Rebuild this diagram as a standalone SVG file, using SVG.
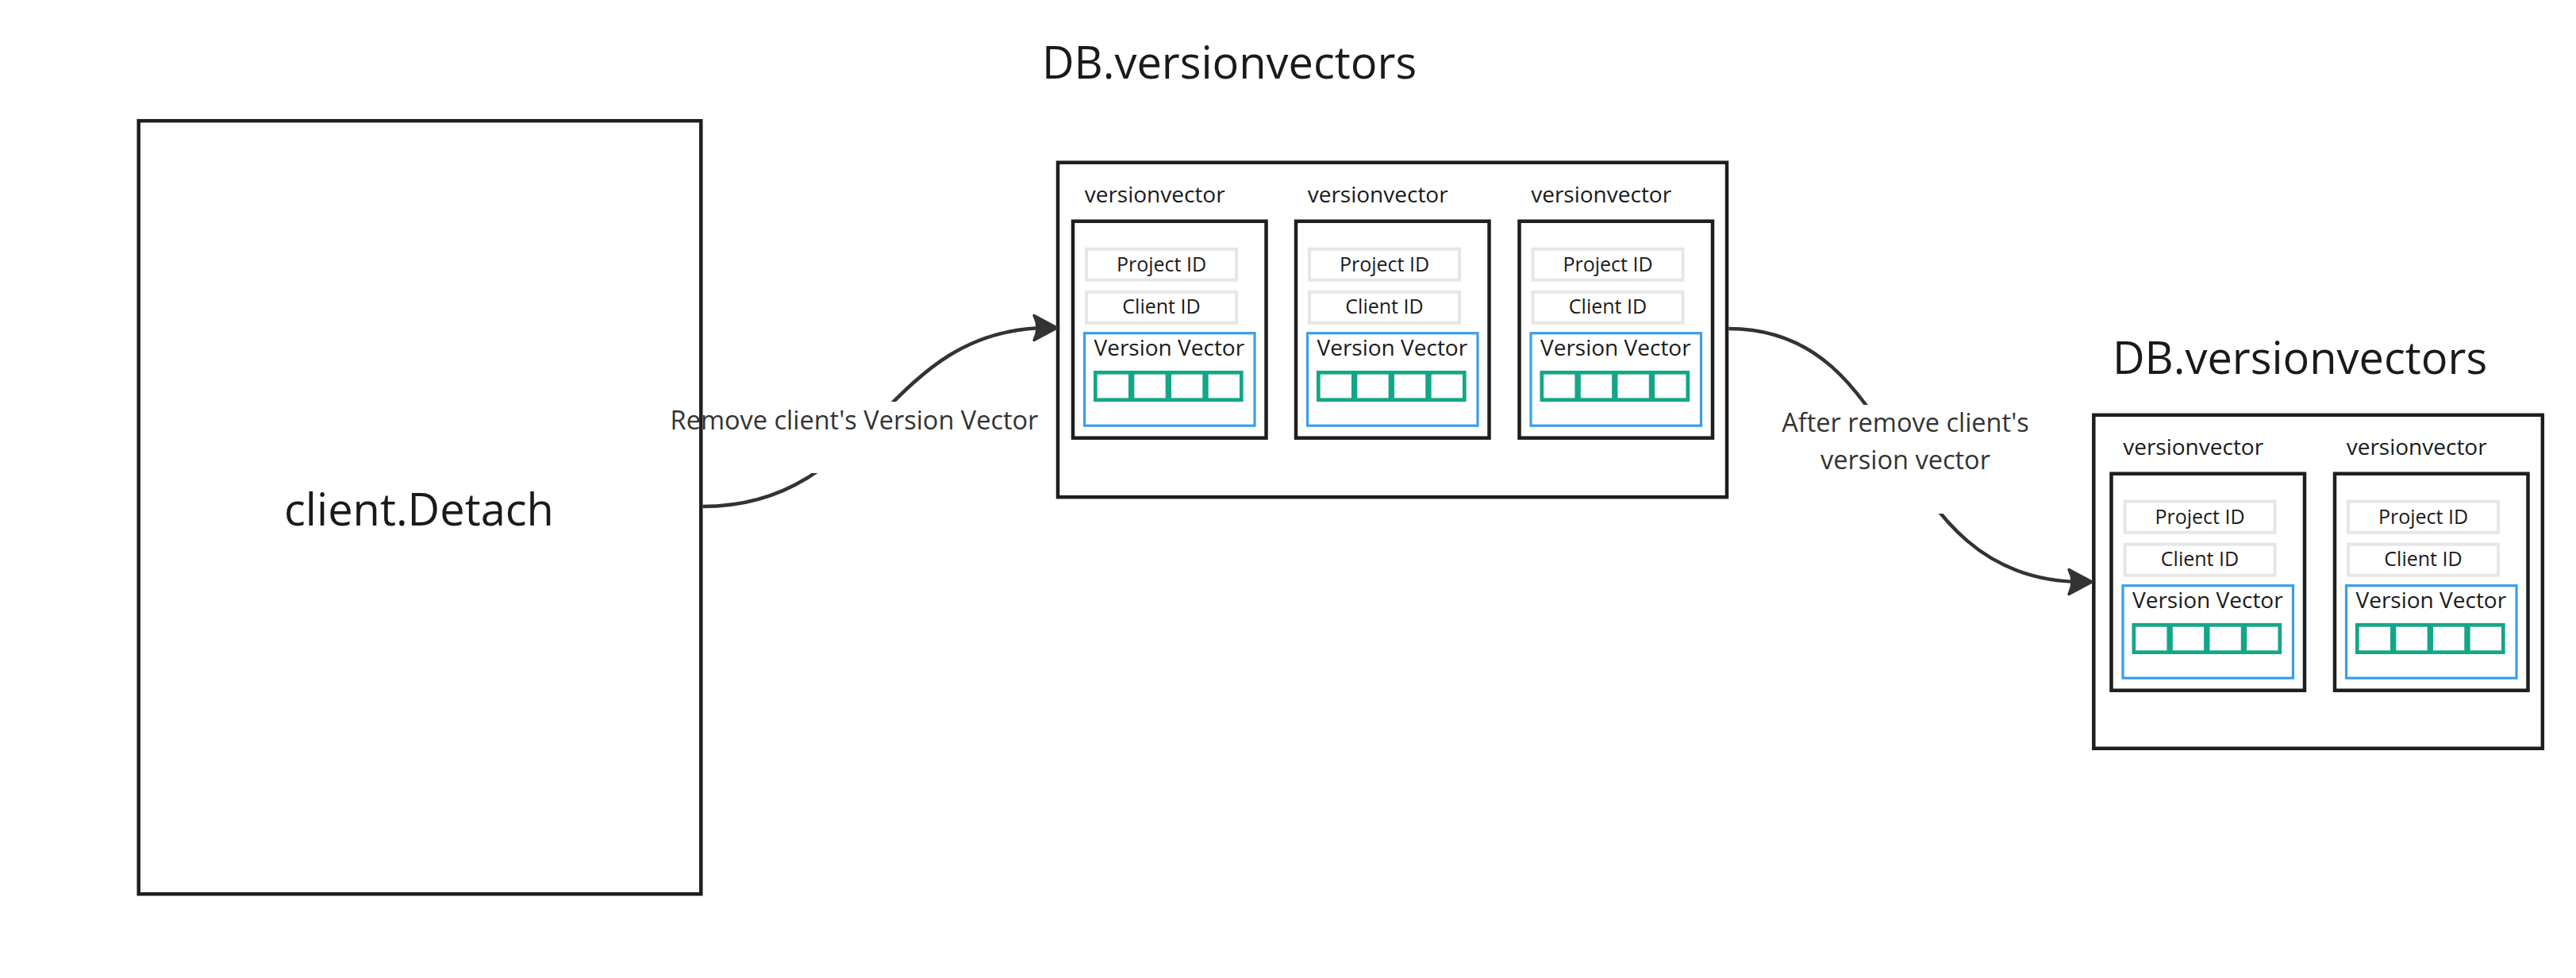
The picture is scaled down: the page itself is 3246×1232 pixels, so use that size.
<svg xmlns="http://www.w3.org/2000/svg" width="3246" height="1232" viewBox="0 0 3246 1232">
  <style>
    text { font-family: "Open Sans", "Noto Sans", "Liberation Sans", sans-serif; fill: #1a1a1a; }
    .title { font-size: 56px; }
    .lbl { font-size: 32.5px; fill: #333333; }
    .vvlabel { font-size: 28px; }
    .idtext { font-size: 25px; text-anchor: middle; }
    .vvtext { font-size: 28px; }
    .big { fill: #ffffff; stroke: #1e1e1e; stroke-width: 4.5; }
    .card { fill: #ffffff; stroke: #1e1e1e; stroke-width: 4.5; }
    .idbox { fill: #ffffff; stroke: #e6e6e6; stroke-width: 4; }
    .vvbox { fill: #ffffff; stroke: #3b9de9; stroke-width: 3.2; }
    .cell { fill: #ffffff; stroke: #13a688; stroke-width: 4.7; }
    .conn { fill: none; stroke: #333333; stroke-width: 4.5; stroke-linecap: butt; }
  </style>
  <defs>
    <marker id="arrow" markerUnits="userSpaceOnUse" markerWidth="50" markerHeight="50" viewBox="-25 -25 50 50" refX="0" refY="0" orient="auto" overflow="visible">
      <path d="M11,0 L-18,-15.5 Q-10,0 -18,15.5 Z" fill="#333333" stroke="#333333" stroke-width="3.5" stroke-linejoin="round"/>
    </marker>
    <mask id="gap1" maskUnits="userSpaceOnUse" x="0" y="0" width="3246" height="1232">
      <rect x="0" y="0" width="3246" height="1232" fill="#ffffff"/>
      <rect x="840" y="506" width="470" height="90" fill="#000000"/>
    </mask>
    <mask id="gap2" maskUnits="userSpaceOnUse" x="0" y="0" width="3246" height="1232">
      <rect x="0" y="0" width="3246" height="1232" fill="#ffffff"/>
      <rect x="2230" y="510" width="350" height="137" fill="#000000"/>
    </mask>
  </defs>

  <rect x="0" y="0" width="3246" height="1232" fill="#ffffff"/>

  <g id="client-detach">
    <rect class="big" x="174.7" y="152.2" width="708.6" height="974"/>
    <text class="title" x="528" y="661.5" text-anchor="middle">client.Detach</text>
  </g>

  <g id="db-versionvectors-before">
    <text class="title" x="1549" y="99" text-anchor="middle">DB.versionvectors</text>
    <rect class="big" x="1333" y="204.7" width="843" height="421.5"/>
    <g id="vv-before-1" transform="translate(1352,278.7)">
      <text class="vvlabel" x="14.7" y="-24">versionvector</text>
      <rect class="card" x="0" y="0" width="243.5" height="273"/>
      <rect class="idbox" x="17" y="35" width="189" height="39"/>
      <text class="idtext" x="111.5" y="63">Project ID</text>
      <rect class="idbox" x="17" y="89" width="189" height="39"/>
      <text class="idtext" x="111.5" y="116">Client ID</text>
      <rect class="vvbox" x="14.5" y="141" width="214.5" height="116.5"/>
      <text class="vvtext" x="26.5" y="169">Version Vector</text>
      <rect class="cell" x="28.3" y="190.6" width="44" height="34.4"/>
      <rect class="cell" x="74.97" y="190.6" width="44" height="34.4"/>
      <rect class="cell" x="121.63" y="190.6" width="44" height="34.4"/>
      <rect class="cell" x="168.3" y="190.6" width="44" height="34.4"/>
    </g>
    <g id="vv-before-2" transform="translate(1633,278.7)">
      <text class="vvlabel" x="14.7" y="-24">versionvector</text>
      <rect class="card" x="0" y="0" width="243.5" height="273"/>
      <rect class="idbox" x="17" y="35" width="189" height="39"/>
      <text class="idtext" x="111.5" y="63">Project ID</text>
      <rect class="idbox" x="17" y="89" width="189" height="39"/>
      <text class="idtext" x="111.5" y="116">Client ID</text>
      <rect class="vvbox" x="14.5" y="141" width="214.5" height="116.5"/>
      <text class="vvtext" x="26.5" y="169">Version Vector</text>
      <rect class="cell" x="28.3" y="190.6" width="44" height="34.4"/>
      <rect class="cell" x="74.97" y="190.6" width="44" height="34.4"/>
      <rect class="cell" x="121.63" y="190.6" width="44" height="34.4"/>
      <rect class="cell" x="168.3" y="190.6" width="44" height="34.4"/>
    </g>
    <g id="vv-before-3" transform="translate(1914.5,278.7)">
      <text class="vvlabel" x="14.7" y="-24">versionvector</text>
      <rect class="card" x="0" y="0" width="243.5" height="273"/>
      <rect class="idbox" x="17" y="35" width="189" height="39"/>
      <text class="idtext" x="111.5" y="63">Project ID</text>
      <rect class="idbox" x="17" y="89" width="189" height="39"/>
      <text class="idtext" x="111.5" y="116">Client ID</text>
      <rect class="vvbox" x="14.5" y="141" width="214.5" height="116.5"/>
      <text class="vvtext" x="26.5" y="169">Version Vector</text>
      <rect class="cell" x="28.3" y="190.6" width="44" height="34.4"/>
      <rect class="cell" x="74.97" y="190.6" width="44" height="34.4"/>
      <rect class="cell" x="121.63" y="190.6" width="44" height="34.4"/>
      <rect class="cell" x="168.3" y="190.6" width="44" height="34.4"/>
    </g>
  </g>

  <g id="db-versionvectors-after">
    <text class="title" x="2898" y="471" text-anchor="middle">DB.versionvectors</text>
    <rect class="big" x="2638.3" y="522.8" width="565.5" height="420"/>
    <g id="vv-after-1" transform="translate(2660.5,596.7)">
      <text class="vvlabel" x="14.7" y="-24">versionvector</text>
      <rect class="card" x="0" y="0" width="243.5" height="273"/>
      <rect class="idbox" x="17" y="35" width="189" height="39"/>
      <text class="idtext" x="111.5" y="63">Project ID</text>
      <rect class="idbox" x="17" y="89" width="189" height="39"/>
      <text class="idtext" x="111.5" y="116">Client ID</text>
      <rect class="vvbox" x="14.5" y="141" width="214.5" height="116.5"/>
      <text class="vvtext" x="26.5" y="169">Version Vector</text>
      <rect class="cell" x="28.3" y="190.6" width="44" height="34.4"/>
      <rect class="cell" x="74.97" y="190.6" width="44" height="34.4"/>
      <rect class="cell" x="121.63" y="190.6" width="44" height="34.4"/>
      <rect class="cell" x="168.3" y="190.6" width="44" height="34.4"/>
    </g>
    <g id="vv-after-2" transform="translate(2942,596.7)">
      <text class="vvlabel" x="14.7" y="-24">versionvector</text>
      <rect class="card" x="0" y="0" width="243.5" height="273"/>
      <rect class="idbox" x="17" y="35" width="189" height="39"/>
      <text class="idtext" x="111.5" y="63">Project ID</text>
      <rect class="idbox" x="17" y="89" width="189" height="39"/>
      <text class="idtext" x="111.5" y="116">Client ID</text>
      <rect class="vvbox" x="14.5" y="141" width="214.5" height="116.5"/>
      <text class="vvtext" x="26.5" y="169">Version Vector</text>
      <rect class="cell" x="28.3" y="190.6" width="44" height="34.4"/>
      <rect class="cell" x="74.97" y="190.6" width="44" height="34.4"/>
      <rect class="cell" x="121.63" y="190.6" width="44" height="34.4"/>
      <rect class="cell" x="168.3" y="190.6" width="44" height="34.4"/>
    </g>
  </g>

  <g id="connectors">
    <path class="conn" mask="url(#gap1)" marker-end="url(#arrow)" d="M885.5,638 C1103,638 1112,413 1321,413"/>
    <text class="lbl" x="1076.5" y="541" text-anchor="middle">Remove client's Version Vector</text>
    <path class="conn" mask="url(#gap2)" marker-end="url(#arrow)" d="M2178.3,414 C2410,414 2372,733 2625,733"/>
    <text class="lbl" x="2401" y="544" text-anchor="middle">After remove client's</text>
    <text class="lbl" x="2401" y="591" text-anchor="middle">version vector</text>
  </g>
</svg>
